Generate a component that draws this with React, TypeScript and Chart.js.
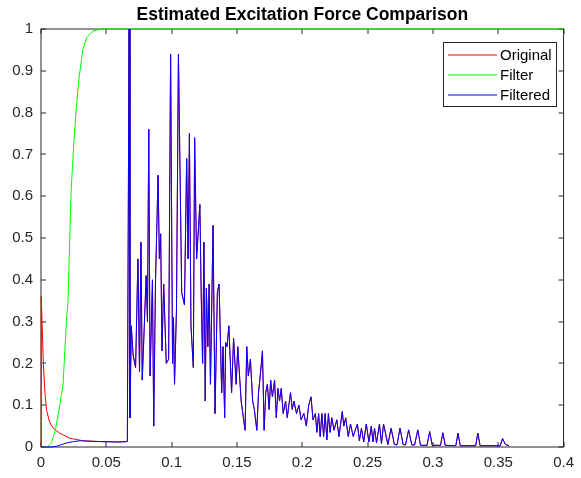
import React, { useEffect, useRef } from 'react';
import { Chart, registerables } from 'chart.js';

Chart.register(...registerables);

const chartTitle = 'Estimated Excitation Force Comparison';
const seriesNames = ['Original', 'Filter', 'Filtered'];
const seriesColors = ['#ff0000', '#00ff00', '#0000ff'];

const xTicks = [0, 0.05, 0.1, 0.15, 0.2, 0.25, 0.3, 0.35, 0.4];
const yTicks = [0, 0.1, 0.2, 0.3, 0.4, 0.5, 0.6, 0.7, 0.8, 0.9, 1];

// Original signal before the excitation starts
const originalHeadX = [0, 0.0002, 0.0008, 0.0018, 0.003, 0.0043, 0.0065, 0.0093, 0.0144, 0.022, 0.032, 0.045, 0.06, 0.0655];
const originalHeadY = [0, 0.36, 0.3, 0.2, 0.13, 0.088, 0.06, 0.045, 0.033, 0.021, 0.015, 0.013, 0.012, 0.013];

// Filtered signal before the excitation starts
const filteredHeadX = [0, 0.008, 0.012, 0.016, 0.02, 0.025, 0.03, 0.035, 0.045, 0.06, 0.0655];
const filteredHeadY = [0, 0, 0.002, 0.006, 0.01, 0.013, 0.015, 0.014, 0.013, 0.012, 0.013];

// Filter window
const filterX = [0, 0.005, 0.008, 0.011, 0.0144, 0.0169, 0.0194, 0.0207, 0.023, 0.025, 0.027, 0.029, 0.032, 0.035, 0.0396, 0.046, 0.4];
const filterY = [0, 0, 0.01, 0.04, 0.1, 0.15, 0.3, 0.35, 0.61, 0.72, 0.81, 0.88, 0.95, 0.98, 0.995, 1, 1];

// Shared part (original and filtered coincide here)
const signalX = [
  0.0661, 0.0674, 0.0681, 0.0691, 0.0705, 0.0724, 0.0742, 0.0754, 0.0765, 0.0775,
  0.0787, 0.0805, 0.0815, 0.0825, 0.0835, 0.0853, 0.0863, 0.0876, 0.0886, 0.0896,
  0.0906, 0.0916, 0.0926, 0.0939, 0.0959, 0.0977, 0.0992, 0.1007, 0.1014, 0.1022,
  0.1037, 0.1052, 0.1077, 0.1098, 0.1115, 0.1126, 0.1136, 0.1148, 0.1166, 0.1176,
  0.1191, 0.1216, 0.1226, 0.1237, 0.1247, 0.1257, 0.1266, 0.1277, 0.1287, 0.1297,
  0.1317, 0.1332, 0.135, 0.1363, 0.1383, 0.1393, 0.1406, 0.1413, 0.1424, 0.1438,
  0.1459, 0.1474, 0.1494, 0.1506, 0.1532, 0.1562, 0.1575, 0.1587, 0.1603, 0.162,
  0.1633, 0.1652, 0.1665, 0.1678, 0.1695, 0.1708, 0.172, 0.1733, 0.1746, 0.1758,
  0.1771, 0.1788, 0.1801, 0.1814, 0.1826, 0.1839, 0.1854, 0.1872, 0.1885, 0.1897,
  0.191, 0.1923, 0.1936, 0.1956, 0.1974, 0.1991, 0.2012, 0.2031, 0.2049, 0.2067,
  0.2082, 0.21, 0.2112, 0.2125, 0.2137, 0.215, 0.2163, 0.2175, 0.2188, 0.22,
  0.2213, 0.2226, 0.2243, 0.2264, 0.2281, 0.2306, 0.2318, 0.2332, 0.2352, 0.2369,
  0.239, 0.241, 0.2422, 0.2437, 0.2453, 0.247, 0.249, 0.251, 0.2528, 0.2541,
  0.2553, 0.2568, 0.2591, 0.2606, 0.2622, 0.2655, 0.268, 0.2705, 0.2725, 0.2748,
  0.2772, 0.279, 0.2814, 0.2838, 0.286, 0.2884, 0.2905, 0.2955, 0.2975, 0.2995,
  0.3058, 0.3076, 0.3094, 0.3175, 0.3192, 0.3209, 0.3327, 0.3344, 0.3361, 0.3515,
  0.3533, 0.3555, 0.3583,
];
const signalY = [
  0.013, 1.0, 0.07, 0.29, 0.22, 0.19, 0.45, 0.18, 0.49, 0.16,
  0.26, 0.41, 0.3, 0.76, 0.17, 0.4, 0.05, 0.39, 0.52, 0.65,
  0.45, 0.51, 0.23, 0.39, 0.2, 0.21, 0.94, 0.2, 0.31, 0.15,
  0.33, 0.94, 0.37, 0.34, 0.69, 0.45, 0.75, 0.29, 0.19, 0.74,
  0.45, 0.58, 0.37, 0.2, 0.49, 0.11, 0.38, 0.24, 0.39, 0.15,
  0.53, 0.08, 0.37, 0.39, 0.13, 0.24, 0.07, 0.25, 0.24, 0.29,
  0.13, 0.26, 0.15, 0.24, 0.11, 0.04, 0.24, 0.17, 0.21, 0.11,
  0.09, 0.04, 0.13, 0.17, 0.23, 0.04, 0.13, 0.15, 0.09, 0.16,
  0.12, 0.16, 0.07, 0.14, 0.11, 0.14, 0.08, 0.11, 0.07, 0.1,
  0.13, 0.09, 0.11, 0.08, 0.1, 0.065, 0.08, 0.05, 0.1, 0.12,
  0.065, 0.08, 0.035, 0.08, 0.025, 0.08, 0.025, 0.08, 0.017, 0.08,
  0.035, 0.07, 0.04, 0.065, 0.025, 0.085, 0.05, 0.07, 0.025, 0.055,
  0.025, 0.045, 0.055, 0.015, 0.045, 0.012, 0.055, 0.012, 0.05, 0.012,
  0.045, 0.01, 0.055, 0.008, 0.055, 0.006, 0.045, 0.006, 0.005, 0.045,
  0.006, 0.005, 0.041, 0.005, 0.005, 0.041, 0.004, 0.004, 0.037, 0.004,
  0.004, 0.034, 0.004, 0.003, 0.033, 0.003, 0.003, 0.033, 0.003, 0.003,
  0.02, 0.006, 0.003,
];

const FONT = '"Liberation Sans", Arial, Helvetica, sans-serif';

function toPoints(xs: number[], ys: number[]) {
  return xs.map((x, i) => ({ x, y: ys[i] }));
}

const framePlugin = {
  id: 'matlabFrame',
  beforeDatasetsDraw(chart: any) {
    const { ctx, chartArea, scales } = chart;
    const { left, right, top, bottom } = chartArea;
    ctx.save();
    ctx.strokeStyle = '#262626';
    ctx.lineWidth = 1;
    ctx.strokeRect(left, top, right - left, bottom - top);
    ctx.beginPath();
    for (const v of xTicks) {
      const px = Math.round(scales.x.getPixelForValue(v));
      ctx.moveTo(px, bottom);
      ctx.lineTo(px, bottom - 5);
      ctx.moveTo(px, top);
      ctx.lineTo(px, top + 5);
    }
    for (const v of yTicks) {
      const py = Math.round(scales.y.getPixelForValue(v));
      ctx.moveTo(left, py);
      ctx.lineTo(left + 5, py);
      ctx.moveTo(right, py);
      ctx.lineTo(right - 5, py);
    }
    ctx.stroke();
    ctx.restore();
  },
  afterDraw(chart: any) {
    const { ctx, chartArea } = chart;
    ctx.save();
    // title
    ctx.fillStyle = '#000000';
    ctx.font = `bold 17.5px ${FONT}`;
    ctx.textAlign = 'center';
    ctx.textBaseline = 'alphabetic';
    ctx.fillText(chartTitle, (chartArea.left + chartArea.right) / 2, 20);
    // legend
    const bx = 443.5, by = 42.5, bw = 113, bh = 64;
    ctx.fillStyle = '#ffffff';
    ctx.fillRect(bx, by, bw, bh);
    ctx.strokeStyle = '#262626';
    ctx.lineWidth = 1;
    ctx.strokeRect(bx, by, bw, bh);
    ctx.font = `15px ${FONT}`;
    ctx.textAlign = 'left';
    ctx.textBaseline = 'middle';
    const rows = [55, 75, 95];
    seriesNames.forEach((name, i) => {
      ctx.strokeStyle = seriesColors[i];
      ctx.lineWidth = 1;
      ctx.beginPath();
      ctx.moveTo(448, rows[i]);
      ctx.lineTo(497, rows[i]);
      ctx.stroke();
      ctx.fillStyle = '#000000';
      ctx.fillText(name, 500, rows[i] + 0.5);
    });
    ctx.restore();
  },
};

export default function App() {
  const canvasRef = useRef<HTMLCanvasElement | null>(null);

  useEffect(() => {
    document.body.style.margin = '0';
    const canvas = canvasRef.current;
    if (!canvas) return;
    const original = toPoints(originalHeadX.concat(signalX), originalHeadY.concat(signalY));
    const filtered = toPoints(filteredHeadX.concat(signalX), filteredHeadY.concat(signalY));
    const filter = toPoints(filterX, filterY);

    const lineStyle = {
      borderWidth: 1,
      pointRadius: 0,
      pointHoverRadius: 0,
      tension: 0,
      fill: false,
      clip: 2,
    };

    const chart = new Chart(canvas, {
      type: 'line',
      data: {
        datasets: [
          // index 0 is drawn on top
          { label: seriesNames[2], data: filtered, borderColor: seriesColors[2], ...lineStyle },
          { label: seriesNames[1], data: filter, borderColor: seriesColors[1], ...lineStyle },
          { label: seriesNames[0], data: original, borderColor: seriesColors[0], ...lineStyle },
        ],
      },
      options: {
        animation: false,
        responsive: false,
        devicePixelRatio: 1,
        parsing: false,
        layout: { padding: { left: 0, top: 29, right: 11, bottom: 0 } },
        plugins: {
          legend: { display: false },
          title: { display: false },
          tooltip: { enabled: false },
        },
        scales: {
          x: {
            type: 'linear',
            min: 0,
            max: 0.4,
            grid: { display: false, drawTicks: false },
            border: { display: false },
            afterBuildTicks: (scale: any) => {
              scale.ticks = xTicks.map((v) => ({ value: v }));
            },
            afterFit: (scale: any) => {
              scale.height = 31;
            },
            ticks: {
              autoSkip: false,
              maxRotation: 0,
              padding: 7,
              color: '#262626',
              font: { family: FONT, size: 15 },
              callback: (v: any) => String(Math.round(Number(v) * 100) / 100),
            },
          },
          y: {
            type: 'linear',
            min: 0,
            max: 1,
            grid: { display: false, drawTicks: false },
            border: { display: false },
            afterBuildTicks: (scale: any) => {
              scale.ticks = yTicks.map((v) => ({ value: v }));
            },
            afterFit: (scale: any) => {
              scale.width = 41;
            },
            ticks: {
              autoSkip: false,
              padding: 8,
              color: '#262626',
              font: { family: FONT, size: 15 },
              callback: (v: any) => String(Math.round(Number(v) * 10) / 10),
            },
          },
        },
      },
      plugins: [framePlugin],
    });

    return () => {
      chart.destroy();
    };
  }, []);

  return (
    <div style={{ width: 581, height: 478 }}>
      <canvas ref={canvasRef} width={581} height={478} style={{ display: 'block' }} />
    </div>
  );
}
